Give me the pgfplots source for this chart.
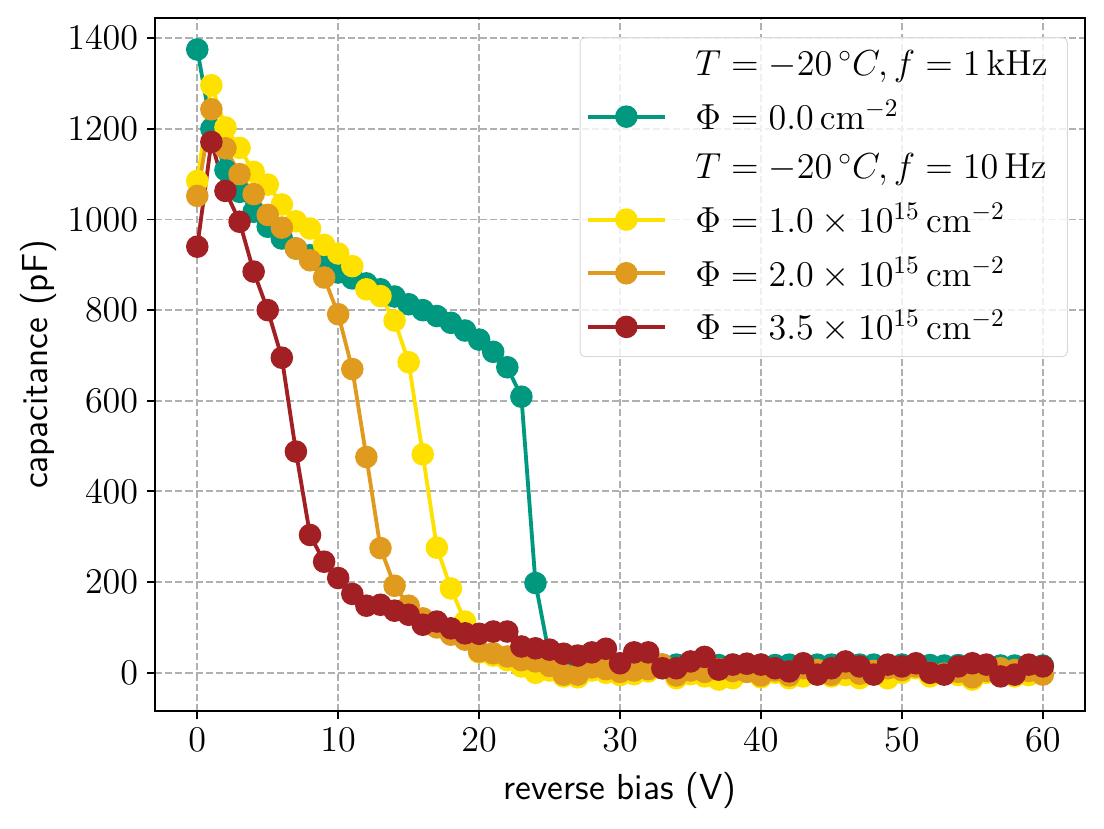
\RequirePackage{fix-cm}
\documentclass[border=0pt]{standalone}
\usepackage{pgfplots}
\pgfplotsset{compat=1.18}
\definecolor{cteal}{RGB}{0,153,128}
\definecolor{cyellow}{RGB}{255,225,0}
\definecolor{corange}{RGB}{224,155,30}
\definecolor{cred}{RGB}{162,32,35}
\definecolor{gridgray}{RGB}{176,176,176}
\newcommand{\fs}{\fontsize{15.1}{18}\selectfont}
\newcommand{\lpad}{\kern3.7pt}
\begin{document}
\begin{tikzpicture}
\path[use as bounding box] (-64.7pt,-48.8pt) rectangle (396.1pt,296.8pt);
\begin{axis}[at={(0,0)}, anchor=south west, scale only axis,
  width=388.2pt, height=289.3pt,
  xmin=-3, xmax=63, ymin=-84.5, ymax=1444.5,
  xtick={0,10,...,60}, ytick={0,200,...,1400},
  /pgf/number format/1000 sep={},
  tick align=outside, tick pos=left, major tick length=3.5pt,
  every tick/.style={black, line width=0.8pt},
  axis line style={line width=0.8pt},
  grid=major, grid style={gridgray, line width=0.8pt, dash pattern=on 2.96pt off 1.28pt},
  tick label style={font=\fs},
  xlabel={\sffamily reverse bias (V)}, ylabel={\sffamily capacitance (pF)},
  label style={font=\fs},
  x label style={at={(axis description cs:0.5,-0.114)}, anchor=center},
  y label style={at={(axis description cs:-0.1257,0.5)}, anchor=center},
  legend style={at={(1,1)}, anchor=north east, xshift=-7.2pt, yshift=-8pt,
    draw=black!15, rounded corners=2pt, fill=white, fill opacity=0.8, text opacity=1,
    font=\fs, row sep=4.6pt, inner xsep=2.5pt, inner ysep=3.5pt,
    /tikz/every odd column/.append style={column sep=10pt}},
  legend cell align=left,
  legend image code/.code={\draw[fill opacity=1, mark repeat=2,mark phase=2] plot coordinates {(0pt,0pt) (16pt,0pt) (32pt,0pt)};},
  every axis plot/.append style={line width=1.6pt, mark=*, mark size=3.9pt},
]
\addlegendimage{empty legend}
\addlegendentry{$T=-20\,^{\circ}C, f=1\,\mathrm{kHz}$\lpad}
\addplot[cteal, mark options={solid, draw=none, fill=cteal}] table {
x y
0 1375
1 1200
2 1109
3 1061
4 1017
5 984
6 958
7 936
8 921
9 900
10 883
11 870
12 859
13 846
14 830
15 813
16 800
17 787
18 772
19 755
20 735
21 708
22 674
23 609
24 198
25 35
26 18
27 14
28 22
29 18
30 18
31 17
32 15
33 18
34 18
35 17
36 18
37 17
38 18
39 19
40 18
41 17
42 18
43 18
44 18
45 18
46 17
47 18
48 18
49 17
50 18
51 18
52 17
53 16
54 17
55 17
56 17
57 16
58 16
59 16
60 16
};
\addlegendentry{$\Phi=0.0\,\mathrm{cm}^{-2}$\lpad}
\addlegendimage{empty legend}
\addlegendentry{$T=-20\,^{\circ}C, f=10\,\mathrm{Hz}$\lpad}
\addplot[cyellow, mark options={solid, draw=none, fill=cyellow}] table {
x y
0 1085
1 1296
2 1203
3 1158
4 1105
5 1077
6 1033
7 996
8 980
9 944
10 925
11 897
12 846
13 831
14 777
15 685
16 482
17 276
18 186
19 113
20 45
21 38
22 28
23 14
24 0
25 5
26 -8
27 -10
28 5
29 0
30 -5
31 -3
32 3
33 10
34 -12
35 -3
36 -8
37 -15
38 -12
39 2
40 -10
41 0
42 -12
43 -8
44 3
45 -8
46 -5
47 -12
48 0
49 -12
50 0
51 10
52 -8
53 -3
54 -5
55 -15
56 0
57 3
58 -8
59 -5
60 -3
};
\addlegendentry{$\Phi=1.0\times10^{15}\,\mathrm{cm}^{-2}$\lpad}
\addplot[corange, mark options={solid, draw=none, fill=corange}] table {
x y
0 1052
1 1243
2 1157
3 1100
4 1056
5 1010
6 982
7 936
8 910
9 872
10 791
11 670
12 476
13 275
14 192
15 148
16 120
17 100
18 84
19 73
20 47
21 43
22 36
23 28
24 25
25 15
26 -4
27 -4
28 12
29 8
30 2
31 5
32 8
33 18
34 -6
35 5
36 2
37 8
38 4
39 2
40 -6
41 5
42 -6
43 10
44 6
45 -4
46 10
47 -2
48 4
49 10
50 6
51 14
52 0
53 -2
54 2
55 -10
56 4
57 10
58 6
59 4
60 -4
};
\addlegendentry{$\Phi=2.0\times10^{15}\,\mathrm{cm}^{-2}$\lpad}
\addplot[cred, mark options={solid, draw=none, fill=cred}] table {
x y
0 940
1 1171
2 1063
3 995
4 885
5 800
6 695
7 488
8 304
9 245
10 209
11 174
12 148
13 150
14 137
15 128
16 106
17 113
18 98
19 87
20 86
21 91
22 91
23 58
24 54
25 51
26 42
27 38
28 45
29 53
30 21
31 45
32 45
33 10
34 10
35 25
36 35
37 7
38 18
39 20
40 18
41 10
42 3
43 21
44 -4
45 10
46 25
47 14
48 -4
49 18
50 14
51 21
52 0
53 -4
54 14
55 21
56 18
57 -8
58 -4
59 18
60 14
};
\addlegendentry{$\Phi=3.5\times10^{15}\,\mathrm{cm}^{-2}$\lpad}
\end{axis}
\end{tikzpicture}
\end{document}
